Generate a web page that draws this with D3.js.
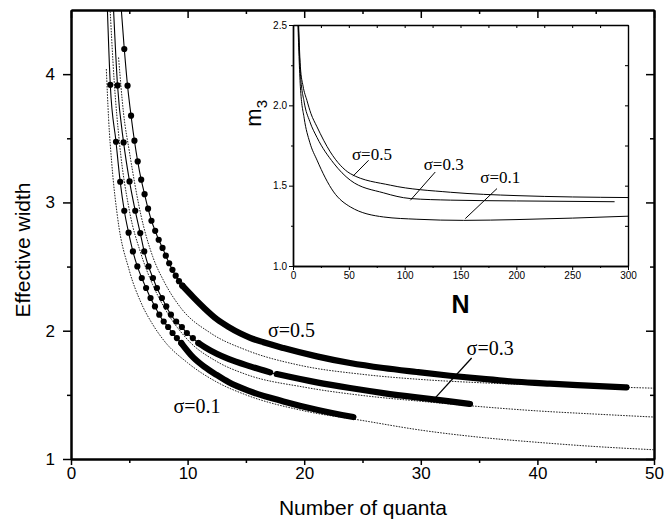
<!DOCTYPE html>
<html>
<head>
<meta charset="utf-8">
<script src="https://d3js.org/d3.v7.min.js"></script>
<style>
  body { margin: 0; background: #fff; }
</style>
</head>
<body>
<div id="chart"></div>
<script>

// ---- main plot data: [number of quanta, effective width] ----

// markers that stand apart near the top of each curve
var dots01 = [[3.37,3.917],[3.86,3.473],[4.22,3.161],[4.57,2.935],[4.94,2.764],[5.31,2.618],[5.69,2.501],
              [6.07,2.411],[6.44,2.333],[6.82,2.255],[7.20,2.189],[7.57,2.125],[7.95,2.072],[8.33,2.029],
              [8.71,1.982],[9.08,1.943],[9.46,1.904]];
var dots03 = [[3.99,3.912],[4.51,3.468],[5.02,3.164],[5.51,2.935],[5.94,2.761],[6.28,2.618],[6.65,2.501],
              [7.03,2.411],[7.37,2.333],[7.80,2.255],[8.17,2.189],[8.57,2.125],[9.02,2.072],[9.51,2.029],
              [9.94,1.982],[10.45,1.943],[10.93,1.904]];
var dots05 = [[4.57,4.196],[4.85,3.910],[5.15,3.676],[5.44,3.481],[5.72,3.320],[6.02,3.177],[6.31,3.064],
              [6.61,2.951],[6.90,2.857],[7.22,2.779],[7.52,2.709],[7.85,2.645],[8.13,2.585],[8.42,2.526],
              [8.70,2.475],[8.98,2.429],[9.26,2.386],[9.55,2.351]];

// where the markers run together into a solid band
var band01 = [[9.46,1.904],[10.5,1.79],[11.5,1.715],[12.5,1.655],[13.5,1.60],[15.37,1.527],[18.22,1.449],
              [21.08,1.384],[24.22,1.327]];
var band03a = [[10.93,1.904],[11.5,1.87],[12.5,1.82],[13.5,1.78],[15.37,1.722],[17.08,1.675]];
var band03b = [[17.65,1.662],[21.08,1.597],[23.93,1.553],[26.79,1.514],[29.65,1.480],[32.5,1.449],[34.22,1.429]];
var band05 = [[9.55,2.351],[10.5,2.26],[11.5,2.17],[12.5,2.09],[13.5,2.03],[14.5,1.98],[15.37,1.945],
              [16.5,1.91],[18.22,1.865],[21.08,1.80],[23.93,1.748],[26.79,1.709],[29.65,1.678],[32.5,1.649],
              [35.36,1.624],[38.22,1.602],[41.07,1.587],[43.92,1.574],[47.64,1.558]];

// thin solid lines leave the frame above the first marker
var top01 = [[3.05,4.70]];
var top03 = [[3.55,4.70]];
var top05 = [[4.15,4.70]];

// dotted curves
var bound01 = [[3.03,4.04],[3.22,3.66],[3.5,3.30],[4,2.88],[5,2.47],[6,2.22],[7,2.05],[8,1.92],[10,1.75],
               [12.5,1.60],[15,1.50],[20,1.375],[25,1.30],[30,1.225],[35,1.17],[40,1.13],[45,1.097],[50,1.072]];
var bound03 = [[3.30,4.60],[3.7,3.95],[4.15,3.47],[5,2.94],[6,2.60],[7,2.36],[8,2.18],[10,1.93],[12.5,1.76],
               [15,1.66],[20,1.56],[25,1.495],[30,1.45],[34.22,1.415],[40,1.375],[45,1.35],[50,1.327]];
var bound05 = [[4.08,4.13],[4.5,3.70],[5,3.40],[6,2.90],[7,2.58],[8,2.38],[9.4,2.18],[12,1.98],[15,1.85],
               [19.65,1.73],[25,1.66],[30,1.62],[35,1.595],[40,1.578],[45,1.565],[50,1.552]];

// ---- inset data: [N, m3] ----
var inset01 = [[4.2,2.55],[6.6,2.116],[10,1.92],[15,1.77],[21.5,1.659],[36.4,1.461],[51.3,1.368],[81.2,1.305],
               [111,1.291],[152.8,1.284],[200.6,1.289],[300,1.31]];
var inset03 = [[4.5,2.55],[6.6,2.20],[10,2.02],[15,1.90],[21.5,1.80],[36.4,1.64],[51.3,1.534],[81.2,1.455],
               [105,1.42],[140.9,1.41],[200,1.405],[288,1.40]];
var inset05 = [[4.8,2.55],[6.6,2.24],[9,2.12],[12.5,2.03],[16,1.95],[21.5,1.866],[33.4,1.71],[42.4,1.627],
               [51.3,1.575],[87.2,1.503],[140.9,1.459],[200.6,1.438],[300,1.426]];

// tick values
var xMajor = [0,10,20,30,40,50], xMinor = [5,15,25,35,45];
var yMajor = [1,2,3,4], yMinor = [1.5,2.5,3.5];
var nMajor = [0,50,100,150,200,250,300], nMinor = [25,75,125,175,225,275];
var mMajor = [1.0,1.5,2.0,2.5], mMinor = [1.25,1.75,2.25];

var sans = "'Liberation Sans', Arial, sans-serif";
var serif = "'Liberation Serif', 'Times New Roman', serif";

// margin setup
var margin = {top: 10, right: 15, bottom: 66, left: 71},
    width = 669 - margin.left - margin.right,
    height = 525 - margin.top - margin.bottom;

var root = d3.select("#chart").append("svg")
    .attr("width", 669)
    .attr("height", 525)
    .style("background", "#fff");

var svg = root.append("g")
    .attr("transform", "translate(" + margin.left + "," + margin.top + ")");

var x = d3.scaleLinear().domain([0, 50]).range([0, width]);
var y = d3.scaleLinear().domain([1, 4.5]).range([height, 0]);

svg.append("clipPath").attr("id", "clipMain")
    .append("rect").attr("width", width).attr("height", height);

// styling helper for axis groups
function styleAxis(g, size, lw) {
    g.attr("font-family", sans).attr("font-size", size);
    g.selectAll("path").attr("stroke", "#000").attr("stroke-width", lw);
    g.selectAll("line").attr("stroke", "#000").attr("stroke-width", lw * 0.75);
    g.selectAll("text").attr("fill", "#000");
}

// bottom + left with labels
svg.append("g").attr("transform", "translate(0," + height + ")")
    .call(d3.axisBottom(x).tickValues(xMajor).tickFormat(d3.format("d")).tickSize(6).tickPadding(2).tickSizeOuter(0))
    .call(styleAxis, 17, 2);
svg.append("g").attr("transform", "translate(0," + height + ")")
    .call(d3.axisBottom(x).tickValues(xMinor).tickSize(4).tickFormat("").tickSizeOuter(0))
    .call(styleAxis, 17, 2);
svg.append("g")
    .call(d3.axisLeft(y).tickValues(yMajor).tickFormat(d3.format("d")).tickSize(8).tickPadding(8).tickSizeOuter(0))
    .call(styleAxis, 17, 2);
svg.append("g")
    .call(d3.axisLeft(y).tickValues(yMinor).tickSize(4).tickFormat("").tickSizeOuter(0))
    .call(styleAxis, 17, 2);

// top + right frame, ticks pointing in
svg.append("g")
    .call(d3.axisTop(x).tickValues(xMajor).tickSize(-8).tickFormat("").tickSizeOuter(0))
    .call(styleAxis, 17, 2);
svg.append("g")
    .call(d3.axisTop(x).tickValues(xMinor).tickSize(-4).tickFormat("").tickSizeOuter(0))
    .call(styleAxis, 17, 2);
svg.append("g").attr("transform", "translate(" + width + ",0)")
    .call(d3.axisRight(y).tickValues(yMajor).tickSize(-8).tickFormat("").tickSizeOuter(0))
    .call(styleAxis, 17, 2);
svg.append("g").attr("transform", "translate(" + width + ",0)")
    .call(d3.axisRight(y).tickValues(yMinor).tickSize(-4).tickFormat("").tickSizeOuter(0))
    .call(styleAxis, 17, 2);

// axis titles
svg.append("text")
    .attr("x", x(25) + 0.5)
    .attr("y", height + 56)
    .attr("text-anchor", "middle")
    .attr("font-family", sans).attr("font-size", 21)
    .text("Number of quanta");

svg.append("text")
    .attr("transform", "rotate(-90)")
    .attr("x", -240)
    .attr("y", -41)
    .attr("text-anchor", "middle")
    .attr("font-family", sans).attr("font-size", 21)
    .text("Effective width");

// curves
var plot = svg.append("g").attr("clip-path", "url(#clipMain)");

var line = d3.line()
    .x(function (d) { return x(d[0]); })
    .y(function (d) { return y(d[1]); })
    .curve(d3.curveMonotoneX);

[bound01, bound03, bound05].forEach(function (b) {
    plot.append("path").datum(b)
        .attr("d", line)
        .attr("fill", "none")
        .attr("stroke", "#222")
        .attr("stroke-width", 1)
        .attr("stroke-dasharray", "1.6,1.2");
});

var fits = [top01.concat(dots01, band01.slice(1)),
            top03.concat(dots03, band03a.slice(1), band03b),
            top05.concat(dots05, band05.slice(1))];
fits.forEach(function (f) {
    plot.append("path").datum(f)
        .attr("d", line)
        .attr("fill", "none")
        .attr("stroke", "#000")
        .attr("stroke-width", 1.1);
});

[band01, band03a, band03b, band05].forEach(function (b) {
    plot.append("path").datum(b)
        .attr("d", line)
        .attr("fill", "none")
        .attr("stroke", "#000")
        .attr("stroke-width", 6.2)
        .attr("stroke-linecap", "round");
});

plot.append("g")
    .selectAll("circle")
    .data(dots01.concat(dots03, dots05))
    .enter().append("circle")
    .attr("cx", function (d) { return x(d[0]); })
    .attr("cy", function (d) { return y(d[1]); })
    .attr("r", 3.1)
    .attr("fill", "#000");

// curve labels
var mainLabels = [
    {text: "σ=0.5", at: [16.9, 1.953]},
    {text: "σ=0.3", at: [33.93, 1.813]},
    {text: "σ=0.1", at: [8.79, 1.359]}
];
svg.append("g").selectAll("text")
    .data(mainLabels)
    .enter().append("text")
    .attr("x", function (d) { return x(d.at[0]); })
    .attr("y", function (d) { return y(d.at[1]); })
    .attr("font-family", serif).attr("font-size", 20)
    .text(function (d) { return d.text; });

svg.append("line")
    .attr("x1", x(34.36)).attr("y1", y(1.787))
    .attr("x2", x(31.22)).attr("y2", y(1.475))
    .attr("stroke", "#000").attr("stroke-width", 1.3);

// ---- inset ----
var inset = {left: 293, top: 25, width: 335, height: 241};

var ig = root.append("g")
    .attr("transform", "translate(" + inset.left + "," + inset.top + ")");

ig.append("rect")
    .attr("width", inset.width).attr("height", inset.height)
    .attr("fill", "#fff");

var xi = d3.scaleLinear().domain([0, 300]).range([0, inset.width]);
var yi = d3.scaleLinear().domain([1, 2.5]).range([inset.height, 0]);

ig.append("clipPath").attr("id", "clipInset")
    .append("rect").attr("width", inset.width).attr("height", inset.height);

ig.append("g").attr("transform", "translate(0," + inset.height + ")")
    .call(d3.axisBottom(xi).tickValues(nMajor).tickSize(4).tickPadding(2).tickSizeOuter(0))
    .call(styleAxis, 10, 1.4);
ig.append("g").attr("transform", "translate(0," + inset.height + ")")
    .call(d3.axisBottom(xi).tickValues(nMinor).tickSize(2).tickFormat("").tickSizeOuter(0))
    .call(styleAxis, 10, 1.4);
ig.append("g")
    .call(d3.axisLeft(yi).tickValues(mMajor).tickSize(4).tickPadding(2).tickFormat(d3.format(".1f")).tickSizeOuter(0))
    .call(styleAxis, 10, 1.4);
ig.append("g")
    .call(d3.axisLeft(yi).tickValues(mMinor).tickSize(2).tickFormat("").tickSizeOuter(0))
    .call(styleAxis, 10, 1.4);
ig.append("g")
    .call(d3.axisTop(xi).tickValues(nMajor.concat(nMinor)).tickSize(-3).tickFormat("").tickSizeOuter(0))
    .call(styleAxis, 10, 1.4);
ig.append("g").attr("transform", "translate(" + inset.width + ",0)")
    .call(d3.axisRight(yi).tickValues(mMajor.concat(mMinor)).tickSize(-3).tickFormat("").tickSizeOuter(0))
    .call(styleAxis, 10, 1.4);

var iline = d3.line()
    .x(function (d) { return xi(d[0]); })
    .y(function (d) { return yi(d[1]); })
    .curve(d3.curveMonotoneX);

var icurves = ig.append("g").attr("clip-path", "url(#clipInset)");
[inset01, inset03, inset05].forEach(function (c) {
    icurves.append("path").datum(c)
        .attr("d", iline)
        .attr("fill", "none")
        .attr("stroke", "#000")
        .attr("stroke-width", 1);
});

// inset labels with pointer lines
var insetLabels = [
    {text: "σ=0.5", at: [52.8, 1.658], from: [67.7, 1.658], to: [53.7, 1.559]},
    {text: "σ=0.3", at: [117, 1.596], from: [127.4, 1.585], to: [105.1, 1.409]},
    {text: "σ=0.1", at: [167.7, 1.515], from: [182.7, 1.482], to: [154.3, 1.295]}
];
ig.append("g").selectAll("text")
    .data(insetLabels)
    .enter().append("text")
    .attr("x", function (d) { return xi(d.at[0]); })
    .attr("y", function (d) { return yi(d.at[1]); })
    .attr("font-family", serif).attr("font-size", 17)
    .text(function (d) { return d.text; });
ig.append("g").selectAll("line")
    .data(insetLabels)
    .enter().append("line")
    .attr("x1", function (d) { return xi(d.from[0]); })
    .attr("y1", function (d) { return yi(d.from[1]); })
    .attr("x2", function (d) { return xi(d.to[0]); })
    .attr("y2", function (d) { return yi(d.to[1]); })
    .attr("stroke", "#000").attr("stroke-width", 1);

// inset axis titles
ig.append("text")
    .attr("x", xi(150))
    .attr("y", inset.height + 47)
    .attr("text-anchor", "middle")
    .attr("font-family", sans).attr("font-size", 25).attr("font-weight", "bold")
    .text("N");

var mt = ig.append("text")
    .attr("transform", "rotate(-90)")
    .attr("x", -yi(1.95))
    .attr("y", -32)
    .attr("text-anchor", "middle")
    .attr("font-family", sans).attr("font-size", 22);
mt.append("tspan").text("m");
mt.append("tspan").attr("font-size", 15).attr("dy", 6).text("3");

</script>
</body>
</html>
